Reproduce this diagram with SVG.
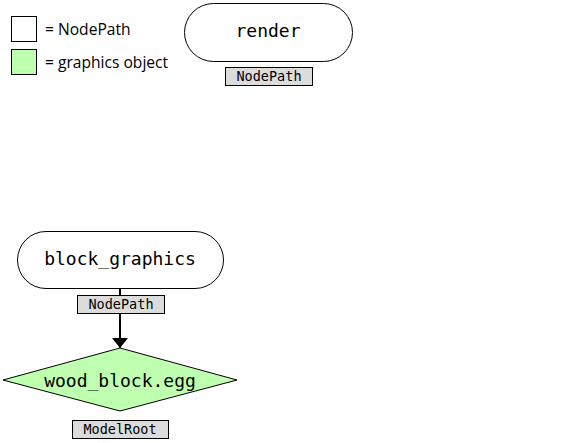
<svg xmlns="http://www.w3.org/2000/svg" width="576" height="443" viewBox="0 0 576 443">
<defs>
<style>
.node{fill:#fff;stroke:#000;stroke-width:1}
.gfx{fill:#bfffb0;stroke:#000;stroke-width:1}
.lbl{fill:#dcdcdc;stroke:#000;stroke-width:1}
.big{font-family:"DejaVu Sans Mono",monospace;font-size:18px;text-anchor:middle;fill:#000}
.small{font-family:"DejaVu Sans Mono",monospace;font-size:13.5px;text-anchor:middle;fill:#000}
.leg{font-family:"Open Sans","Liberation Sans",sans-serif;font-size:15.6px;fill:#000}
</style>
<marker id="arr" markerWidth="10" markerHeight="16" refX="10" refY="8" orient="auto" markerUnits="userSpaceOnUse" viewBox="0 0 10 16">
<path d="M0,0 L10,8 L0,16 Z" fill="#000"/>
</marker>
</defs>
<rect width="576" height="443" fill="#fff"/>
<g id="legend">
<rect class="node" x="11.5" y="16.5" width="25" height="25"/>
<text class="leg" x="45" y="35">= NodePath</text>
<rect x="11.5" y="49.5" width="25" height="25" fill="#bfffb0" stroke="#000"/>
<text class="leg" x="45" y="68">= graphics object</text>
</g>
<g id="connectors">
<line x1="120" y1="288" x2="120" y2="348" stroke="#000" stroke-width="2" marker-end="url(#arr)"/>
</g>
<g id="render">
<rect class="node" x="184.5" y="3.5" width="168" height="58" rx="29" ry="29"/>
<text class="big" x="268" y="37">render</text>
<rect class="lbl" x="225.5" y="67.5" width="87" height="18"/>
<text class="small" x="269" y="81">NodePath</text>
</g>
<g id="block_graphics">
<rect class="node" x="17.5" y="231.5" width="206" height="57" rx="28.5" ry="28.5"/>
<text class="big" x="120" y="265">block_graphics</text>
<rect class="lbl" x="77.5" y="295.5" width="87" height="18"/>
<text class="small" x="121" y="309">NodePath</text>
</g>
<g id="wood_block">
<polygon class="gfx" points="120,348 237,380 120,411 3,380"/>
<text class="big" x="120" y="387">wood_block.egg</text>
<rect class="lbl" x="72.5" y="420.5" width="96" height="18"/>
<text class="small" x="120" y="434">ModelRoot</text>
</g>
</svg>
